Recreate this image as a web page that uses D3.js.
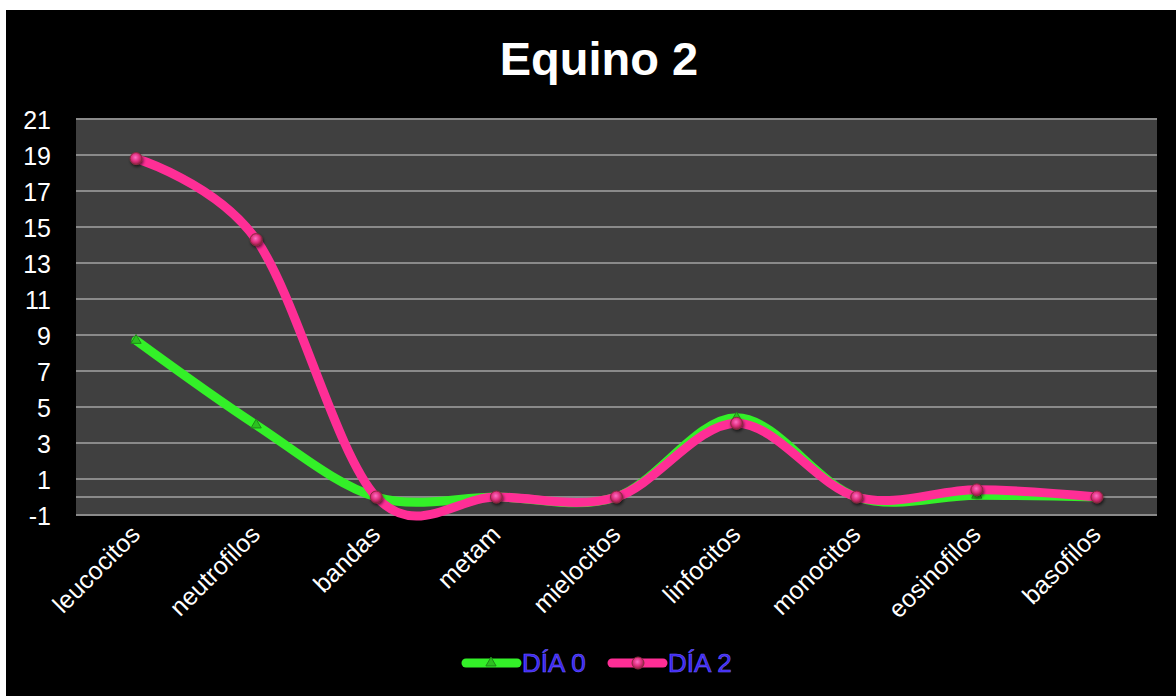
<!DOCTYPE html>
<html>
<head>
<meta charset="utf-8">
<script src="https://cdn.jsdelivr.net/npm/d3@7"></script>
<style>
  html, body { margin: 0; padding: 0; background: #ffffff; }
  svg { display: block; }
  text { font-family: "Liberation Sans", Arial, sans-serif; }
</style>
</head>
<body>
<svg id="chart" width="1176" height="696"></svg>
<script>
// Differential leukocyte counts for "Equino 2" on day 0 and day 2
const categories = ["leucocitos", "neutrofilos", "bandas", "metam", "mielocitos",
                    "linfocitos", "monocitos", "eosinofilos", "basofilos"];
const dia0 = [8.7, 4.0, 0, 0, 0, 4.4, 0, 0.1, 0];
const dia2 = [18.8, 14.3, 0, 0, 0, 4.1, 0, 0.4, 0];
const yTicks = [-1, 1, 3, 5, 7, 9, 11, 13, 15, 17, 19, 21];
const seriesNames = ["DÍA 0", "DÍA 2"];

const svg = d3.select("#chart");

// frame
svg.append("rect").attr("x", 6).attr("y", 10).attr("width", 1170).attr("height", 686).attr("fill", "#000");

const plot = { left: 76, right: 1157, top: 119, bottom: 515 };

const x = d3.scalePoint().domain(categories).range([plot.left, plot.right]).padding(0.5);
const y = d3.scaleLinear().domain([-1, 21]).range([plot.bottom, plot.top]);

// defs: marker sphere gradient + shadow
const defs = svg.append("defs");
const grad = defs.append("radialGradient").attr("id", "sphere").attr("cx", "45%").attr("cy", "40%").attr("r", "60%");
grad.append("stop").attr("offset", "0%").attr("stop-color", "#ff6fc4");
grad.append("stop").attr("offset", "55%").attr("stop-color", "#e0307f");
grad.append("stop").attr("offset", "100%").attr("stop-color", "#8a2040");
const shadow = defs.append("filter").attr("id", "shadow").attr("x", "-50%").attr("y", "-50%").attr("width", "200%").attr("height", "200%");
shadow.append("feDropShadow").attr("dx", 1).attr("dy", 2).attr("stdDeviation", 1.5).attr("flood-color", "#000").attr("flood-opacity", 0.6);

// plot background
svg.append("rect")
  .attr("x", plot.left).attr("y", plot.top)
  .attr("width", plot.right - plot.left).attr("height", plot.bottom - plot.top)
  .attr("fill", "#404040");

// horizontal gridlines + zero line
svg.append("g").selectAll("line").data(yTicks.concat([0])).join("line")
  .attr("x1", plot.left).attr("x2", plot.right)
  .attr("y1", d => y(d)).attr("y2", d => y(d))
  .attr("stroke", "#8a8a8a").attr("stroke-width", 2);

// y axis labels
const yAxis = d3.axisLeft(y).tickValues(yTicks).tickSize(0).tickPadding(0).tickFormat(d3.format("d"));
const yg = svg.append("g").attr("transform", `translate(${plot.left - 25},0)`).call(yAxis);
yg.select(".domain").remove();
yg.selectAll("text").attr("fill", "#fff").attr("font-size", 25).attr("dy", "0.36em")
  .text(d => d < 0 ? "-" + Math.abs(d) : d);

// x axis labels, rotated
const xAxis = d3.axisBottom(x).tickSize(0).tickPadding(0);
const xg = svg.append("g").attr("transform", `translate(0,${plot.bottom})`).call(xAxis);
xg.select(".domain").remove();
xg.selectAll("text")
  .attr("fill", "#fff").attr("font-size", 25)
  .attr("text-anchor", "end")
  .attr("transform", "translate(5,21) rotate(-45)")
  .attr("dy", 0).attr("y", 0).attr("x", 0);

// smoothed lines
const line = d3.line()
  .x((d, i) => x(categories[i]))
  .y(d => y(d))
  .curve(d3.curveCardinal.tension(0));

const green = "#33f028";
const pink = "#ff2e96";

svg.append("path").datum(dia0).attr("d", line)
  .attr("fill", "none").attr("stroke", green).attr("stroke-width", 9).attr("stroke-linecap", "round");

// day 0 triangle markers
const tri = d3.symbol().type(d3.symbolTriangle).size(45);
svg.append("g").selectAll("path").data(dia0).join("path")
  .attr("d", tri)
  .attr("transform", (d, i) => `translate(${x(categories[i])},${y(d)})`)
  .attr("fill", "#2cc020").attr("stroke", "#1e8a18").attr("stroke-width", 1);

svg.append("path").datum(dia2).attr("d", line)
  .attr("fill", "none").attr("stroke", pink).attr("stroke-width", 9).attr("stroke-linecap", "round");

// day 2 sphere markers
svg.append("g").selectAll("circle").data(dia2).join("circle")
  .attr("cx", (d, i) => x(categories[i]))
  .attr("cy", d => y(d))
  .attr("r", 6)
  .attr("fill", "url(#sphere)").attr("stroke", "#8a2a40").attr("stroke-width", 1)
  .attr("filter", "url(#shadow)");

// title
svg.append("text")
  .attr("x", 599).attr("y", 75)
  .attr("text-anchor", "middle")
  .attr("fill", "#fff").attr("font-size", 47).attr("font-weight", "bold")
  .text("Equino 2");

// legend
const legend = svg.append("g");
const legendItems = [
  { name: seriesNames[0], color: green, x0: 466, type: "tri" },
  { name: seriesNames[1], color: pink, x0: 612, type: "dot" }
];
const ly = 663;
legendItems.forEach(it => {
  legend.append("line")
    .attr("x1", it.x0).attr("x2", it.x0 + 51).attr("y1", ly).attr("y2", ly)
    .attr("stroke", it.color).attr("stroke-width", 9).attr("stroke-linecap", "round");
  if (it.type === "tri") {
    legend.append("path").attr("d", tri).attr("transform", `translate(${it.x0 + 25},${ly})`)
      .attr("fill", "#2cc020").attr("stroke", "#1e8a18").attr("stroke-width", 1);
  } else {
    legend.append("circle").attr("cx", it.x0 + 26).attr("cy", ly).attr("r", 6)
      .attr("fill", "url(#sphere)").attr("stroke", "#8a2a40").attr("stroke-width", 1);
  }
  legend.append("text")
    .attr("x", it.x0 + 56).attr("y", ly).attr("dy", "0.36em")
    .attr("font-size", 26)
    .attr("fill", "#3a24f0").attr("stroke", "#6f60ff").attr("stroke-width", 0.6)
    .text(it.name);
});
</script>
</body>
</html>
